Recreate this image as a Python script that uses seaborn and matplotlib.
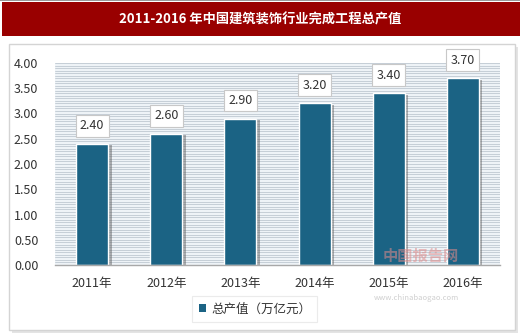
import matplotlib
matplotlib.use("Agg")
import matplotlib.pyplot as plt
import matplotlib.patheffects as pe
from matplotlib.patches import Rectangle
import seaborn as sns
import pandas as pd
import numpy as np

years = ["2011年", "2012年", "2013年", "2014年", "2015年", "2016年"]
values = [2.40, 2.60, 2.90, 3.20, 3.40, 3.70]
yticks = [0.00, 0.50, 1.00, 1.50, 2.00, 2.50, 3.00, 3.50, 4.00]
title = "2011-2016 年中国建筑装饰行业完成工程总产值"
series_name = "总产值（万亿元）"

sns.set_theme(style="white")
plt.rcParams['font.family'] = ['Noto Sans CJK SC', 'DejaVu Sans']

W, H = 520, 334
fig = plt.figure(figsize=(W / 100, H / 100), dpi=100)
fig.patch.set_facecolor("white")

def px(x0, y0, x1, y1):
    return (x0 / W, 1 - y1 / H, (x1 - x0) / W, (y1 - y0) / H)

# title bar
fig.patches.append(Rectangle((0, 1 - 1 / H), 1, 1 / H, transform=fig.transFigure,
                             facecolor="#9a9a9a", edgecolor="none", zorder=-5))
x, y, w, h = px(2, 2, 520, 36)
fig.patches.append(Rectangle((x, y), w, h, transform=fig.transFigure,
                             facecolor="#990000", edgecolor="none", zorder=-5))
fig.text(0.5, 1 - 19 / H, title, color="white", fontsize=9.5, fontweight="bold",
         ha="center", va="center")

# panel
x, y, w, h = px(9, 44, 515, 330)
fig.patches.append(Rectangle((x + 3 / W, y - 3 / H), w, h, transform=fig.transFigure,
                             facecolor="#e4e4e4", edgecolor="none", zorder=-5))
fig.patches.append(Rectangle((x, y), w, h, transform=fig.transFigure,
                             facecolor="white", edgecolor="#d4d4d4", lw=1, zorder=-4))

ax = fig.add_axes(px(55, 63, 500, 265))
ax.set_zorder(2)
ax.set_facecolor("#eef3f7")

df = pd.DataFrame({"year": years, "value": values})
bar_color = "#1b6384"
sns.barplot(data=df, x="year", y="value", color=bar_color, width=0.43,
            saturation=1, ax=ax, zorder=3)

for p in ax.patches:
    p.set_path_effects([pe.SimplePatchShadow(offset=(2.5, -1), shadow_rgbFace="#555555", alpha=0.45),
                        pe.Normal()])

for i, v in enumerate(values):
    ax.annotate(f"{v:.2f}", (i, v), xytext=(0, 13), textcoords="offset points",
                ha="center", va="center", fontsize=9, color="#333333", zorder=5,
                bbox=dict(boxstyle="square,pad=0.35", facecolor="white",
                          edgecolor="#c8c8c8", lw=0.8))

for g in np.arange(0.05, 4.001, 0.05):
    ax.axhline(g, color="#bfc8d1", lw=0.6, zorder=1)

ax.set_ylim(0, 4)
ax.set_xlim(-0.5, 5.5)
ax.set_yticks(yticks)
ax.set_yticklabels([f"{t:.2f}" for t in yticks], fontsize=9, color="#333333")
ax.set_xticks(range(len(years)))
ax.set_xticklabels(years, fontsize=9, color="#333333")
ax.set_xlabel("")
ax.set_ylabel("")
ax.tick_params(axis="both", length=0)
ax.tick_params(axis="y", pad=12)
ax.tick_params(axis="x", pad=9)
for s in ["top", "right", "left"]:
    ax.spines[s].set_visible(False)
ax.spines["bottom"].set_color("#a8a8a8")
ax.spines["bottom"].set_linewidth(1)
ax.spines["bottom"].set_zorder(4)

# watermark
fig.text(0.81, 1 - 256 / H, "中国报告网", color="#e08a8a", fontsize=11, fontweight="bold",
         ha="center", va="center", alpha=0.55, zorder=10)
fig.text(0.80, 1 - 298 / H, "www.chinabaogao.com", color="#b0b0b0", fontsize=5.5,
         ha="center", va="center", alpha=0.6, zorder=10)

handle = Rectangle((0, 0), 1, 1, facecolor=bar_color, edgecolor="none")
leg = fig.legend([handle], [series_name], loc="center", bbox_to_anchor=(0.49, 1 - 309 / H),
                 frameon=True, fontsize=9, handlelength=0.6, handleheight=0.6,
                 handletextpad=0.4, borderpad=0.5, fancybox=False)
leg.set_zorder(6)
leg.get_frame().set_edgecolor("#e6e6e6")
leg.get_frame().set_linewidth(0.8)
for t in leg.get_texts():
    t.set_color("#333333")

fig.savefig("out.png", dpi=100)
